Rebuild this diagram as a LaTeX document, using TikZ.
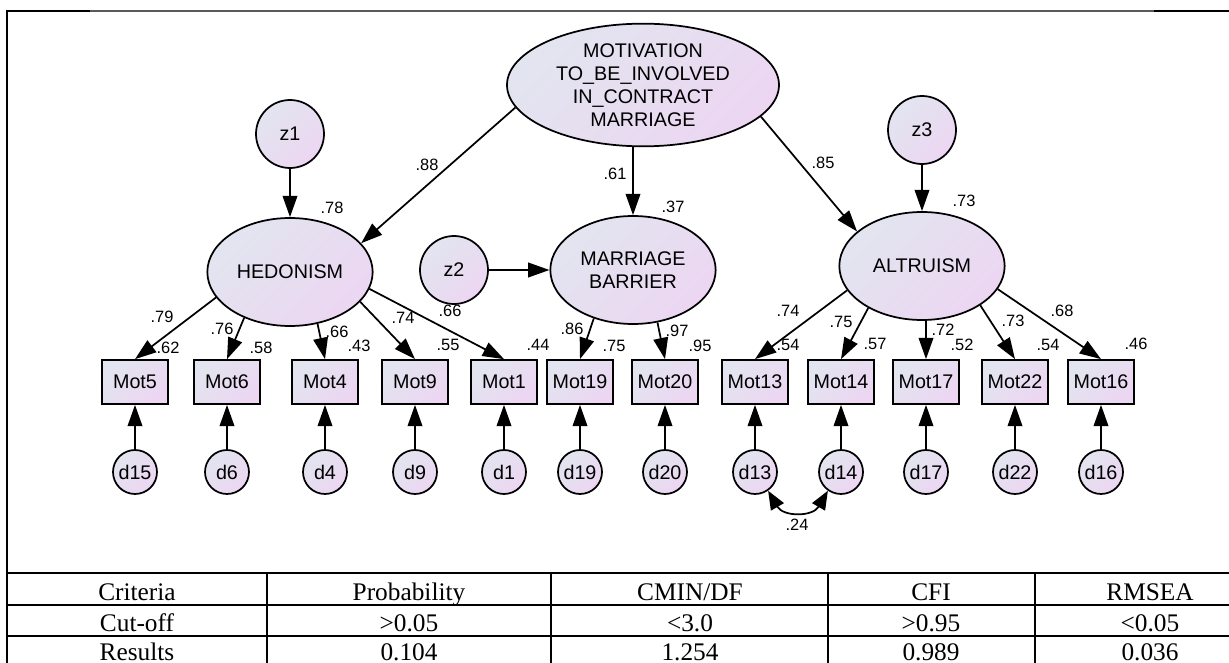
\documentclass[tikz,border=0pt]{standalone}
\usepackage{fontspec}
\setmainfont{Liberation Serif}
\newfontfamily\semfont{Liberation Sans}
\usetikzlibrary{shapes.geometric,arrows.meta}

\definecolor{semA}{RGB}{226,229,239}
\definecolor{semB}{RGB}{236,214,242}
\definecolor{rulegray}{RGB}{90,90,90}

\begin{document}
\begin{tikzpicture}[x=0.75pt,y=0.75pt,yscale=-1,
  latent/.style={ellipse,draw,line width=1.3pt,left color=semA,right color=semB,shading angle=45,
    inner sep=0pt,minimum width=124pt,minimum height=81pt,align=center,
    font=\semfont\fontsize{14.8}{17.25}\selectfont},
  distc/.style={circle,draw,line width=1.3pt,left color=semA,right color=semB,shading angle=45,
    inner sep=0pt,minimum size=51pt,font=\semfont\fontsize{14.8}{17.25}\selectfont},
  errc/.style={distc,minimum size=33pt},
  obs/.style={rectangle,draw,line width=1.3pt,left color=semA,right color=semB,shading angle=45,
    inner sep=0pt,minimum width=49.5pt,minimum height=33pt,font=\semfont\fontsize{14.8}{17.25}\selectfont},
  coef/.style={inner sep=0.75pt,font=\semfont\fontsize{12.3}{14}\selectfont},
  reg/.style={line width=1.3pt,-{Triangle[length=16pt,width=11pt]}},
  cov/.style={line width=1.3pt,{Triangle[length=14pt,width=11pt]}-{Triangle[length=14pt,width=11pt]}},
  tline/.style={line width=1.4pt},
  cell/.style={anchor=base,inner sep=0pt,font=\fontsize{19}{22}\selectfont}
]
\useasboundingbox (0,0) rectangle (1229,663);

%Straight Lines: frame
\draw [color=rulegray,line width=0.9pt] (90,11) -- (1154,11) ;
\draw [line width=2pt] (7,11) -- (90,11) ;
\draw [line width=2pt] (1154,11) -- (1229,11) ;
\draw [tline] (7,10) -- (7,663) ;

%Shape: Ellipse
\node [latent,minimum width=204pt,minimum height=92pt,inner sep=-2pt] (mot) at (643,85) {MOTIVATION\\TO\_BE\_INVOLVED\\IN\_CONTRACT\\MARRIAGE};
\node [latent] (hed) at (290,272) {HEDONISM};
\node [latent] (mb) at (633,270) {MARRIAGE\\BARRIER};
\node [latent] (alt) at (922,266) {ALTRUISM};

%Shape: Circle
\node [distc] (z1) at (290,134) {z1};
\node [distc] (z2) at (454,270) {z2};
\node [distc] (z3) at (922,130) {z3};

%Shape: Rectangle
\node [obs] (m5) at (135,382) {Mot5};
\node [obs] (m6) at (227,382) {Mot6};
\node [obs] (m4) at (325,382) {Mot4};
\node [obs] (m9) at (415,382) {Mot9};
\node [obs] (m1) at (504,382) {Mot1};
\node [obs] (m19) at (580,382) {Mot19};
\node [obs] (m20) at (665,382) {Mot20};
\node [obs] (m13) at (755,382) {Mot13};
\node [obs] (m14) at (841,382) {Mot14};
\node [obs] (m17) at (926,382) {Mot17};
\node [obs] (m22) at (1015,382) {Mot22};
\node [obs] (m16) at (1101,382) {Mot16};

%Shape: Circle
\node [errc] (d15) at (135,472) {d15};
\node [errc] (d6) at (227,472) {d6};
\node [errc] (d4) at (325,472) {d4};
\node [errc] (d9) at (415,472) {d9};
\node [errc] (d1) at (504,472) {d1};
\node [errc] (d19) at (580,472) {d19};
\node [errc] (d20) at (665,472) {d20};
\node [errc] (d13) at (755,472) {d13};
\node [errc] (d14) at (841,472) {d14};
\node [errc] (d17) at (926,472) {d17};
\node [errc] (d22) at (1015,472) {d22};
\node [errc] (d16) at (1101,472) {d16};

% Connection
\draw [reg] (mot.190) -- (hed.22) ;
\draw [reg] (mot.south -| mb.north) -- (mb.north) ;
\draw [reg] (mot.345) -- (alt.152) ;
\draw [reg] (z1) -- (hed) ;
\draw [reg] (z2) -- (mb) ;
\draw [reg] (z3) -- (alt) ;
% Connection
\draw [reg] (hed.199) -- (m5.north) ;
\draw [reg] (hed.225) -- (m6.north) ;
\draw [reg] (hed.298) -- (m4.north) ;
\draw [reg] (hed.337) -- (m9.north) ;
\draw [reg] (hed.348) -- (m1.north) ;
\draw [reg] (mb.231) -- (m19.north) ;
\draw [reg] (mb.295) -- (m20.north) ;
\draw [reg] (alt.198) -- (m13.north) ;
\draw [reg] (alt.218) -- (m14.north) ;
\draw [reg] (alt.south -| m17.north) -- (m17.north) ;
\draw [reg] (alt.326) -- (m22.north) ;
\draw [reg] (alt.343) -- (m16.north) ;
% Connection
\draw [reg] (d15) -- (m5) ;
\draw [reg] (d6) -- (m6) ;
\draw [reg] (d4) -- (m4) ;
\draw [reg] (d9) -- (m9) ;
\draw [reg] (d1) -- (m1) ;
\draw [reg] (d19) -- (m19) ;
\draw [reg] (d20) -- (m20) ;
\draw [reg] (d13) -- (m13) ;
\draw [reg] (d14) -- (m14) ;
\draw [reg] (d17) -- (m17) ;
\draw [reg] (d22) -- (m22) ;
\draw [reg] (d16) -- (m16) ;
\draw [cov] (d13.-55) to [bend left=60,looseness=1.3] (d14.235) ;

% Text Node
\node [coef] (lhed) at (427,165) {.88};
\node [coef] (rhed) at (332,208) {.78};
\node [coef] (lmb) at (615,174) {.61};
\node [coef] (rmb) at (673,207) {.37};
\node [coef] (lalt) at (823,163) {.85};
\node [coef] (ralt) at (964,201) {.73};
% Text Node
\node [coef] (l5) at (162,317) {.79};
\node [coef] (r5) at (168,348) {.62};
\node [coef] (l6) at (222,329) {.76};
\node [coef] (r6) at (261,348) {.58};
\node [coef] (l4) at (337,332) {.66};
\node [coef] (r4) at (359,346) {.43};
\node [coef] (l9) at (403,318) {.74};
\node [coef] (r9) at (448,345) {.55};
\node [coef] (l1) at (450,311) {.66};
\node [coef] (r1) at (538,345) {.44};
\node [coef] (l19) at (572,329) {.86};
\node [coef] (r19) at (614,346) {.75};
\node [coef] (l20) at (677,331) {.97};
\node [coef] (r20) at (700,346) {.95};
\node [coef] (l13) at (788,311) {.74};
\node [coef] (r13) at (788,345) {.54};
\node [coef] (l14) at (841,322) {.75};
\node [coef] (r14) at (875,344) {.57};
\node [coef] (l17) at (943,330) {.72};
\node [coef] (r17) at (962,345) {.52};
\node [coef] (l22) at (1013,321) {.73};
\node [coef] (r22) at (1048,345) {.54};
\node [coef] (l16) at (1062,311) {.68};
\node [coef] (r16) at (1136,344) {.46};
\node [coef] (c1314) at (797,525) {.24};

%Straight Lines: table
\draw [tline] (7,573) -- (1229,573) ;
\draw [tline] (7,605) -- (1229,605) ;
\draw [tline] (7,636) -- (1229,636) ;
\draw [tline] (267,573) -- (267,663) ;
\draw [tline] (551,573) -- (551,663) ;
\draw [tline] (828,573) -- (828,663) ;
\draw [tline] (1035,573) -- (1035,663) ;

% Text Node
\node [cell] (c11) at (137,600) {Criteria};
\node [cell] (c12) at (409,600) {Probability};
\node [cell] (c13) at (690,600) {CMIN/DF};
\node [cell] (c14) at (931,600) {CFI};
\node [cell] (c15) at (1150,600) {RMSEA};
\node [cell] (c21) at (137,631) {Cut-off};
\node [cell] (c22) at (409,631) {>0.05};
\node [cell] (c23) at (690,631) {<3.0};
\node [cell] (c24) at (931,631) {>0.95};
\node [cell] (c25) at (1150,631) {<0.05};
\node [cell] (c31) at (137,660) {Results};
\node [cell] (c32) at (409,660) {0.104};
\node [cell] (c33) at (690,660) {1.254};
\node [cell] (c34) at (931,660) {0.989};
\node [cell] (c35) at (1150,660) {0.036};

\end{tikzpicture}
\end{document}
